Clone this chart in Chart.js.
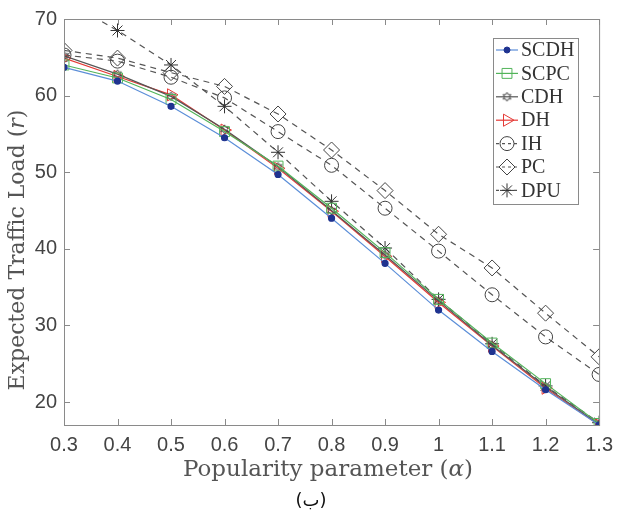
<!DOCTYPE html>
<html>
<head>
<meta charset="utf-8">
<script src="https://cdn.jsdelivr.net/npm/chart.js@4.4.0/dist/chart.umd.min.js"></script>
<style>
  html, body { margin: 0; padding: 0; background: #fff; }
  #wrap { width: 621px; height: 516px; position: relative; }
</style>
</head>
<body>
<div id="wrap"><canvas id="loadChart" width="621" height="516"></canvas></div>
<script>
/* ── data ── */
const alphas = [0.3, 0.4, 0.5, 0.6, 0.7, 0.8, 0.9, 1.0, 1.1, 1.2, 1.3];
const xTicks = [0.3, 0.4, 0.5, 0.6, 0.7, 0.8, 0.9, 1.0, 1.1, 1.2, 1.3];
const yTicks = [20, 30, 40, 50, 60, 70];

const scdh = [63.7, 61.9, 58.6, 54.5, 49.7, 44.0, 38.1, 32.0, 26.6, 21.6, 17.0];
const scpc = [64.0, 62.3, 59.5, 55.3, 50.8, 45.3, 39.5, 33.4, 27.7, 22.4, 17.2];
const cdh  = [65.2, 62.8, 59.9, 55.6, 50.7, 45.0, 39.2, 33.2, 27.4, 22.0, 17.1];
const dh   = [64.9, 62.5, 60.1, 55.5, 50.5, 44.9, 39.0, 33.0, 27.3, 21.8, 17.0];
const ih   = [65.3, 64.5, 62.4, 59.7, 55.3, 50.9, 45.3, 39.7, 34.0, 28.5, 23.6];
const pc   = [65.9, 64.9, 63.0, 61.2, 57.6, 52.9, 47.6, 41.9, 37.5, 31.6, 25.9];
const dpu  = [72.5, 68.5, 64.0, 58.6, 52.6, 46.2, 40.1, 33.4, 27.6, 22.1, 17.3];

const pts = arr => arr.map((v, i) => ({ x: alphas[i], y: v }));

/* hexagram marker (MATLAB 'h') */
function hexagram(r, color) {
  const c = document.createElement('canvas');
  const s = Math.ceil(r * 2 + 4);
  c.width = s; c.height = s;
  const g = c.getContext('2d');
  g.strokeStyle = color; g.lineWidth = 1;
  const cx = s / 2, cy = s / 2;
  g.beginPath();
  for (let i = 0; i < 12; i++) {
    const a = -Math.PI / 2 + i * Math.PI / 6;
    const rr = i % 2 === 0 ? r : r * 0.55;
    const px = cx + rr * Math.cos(a), py = cy + rr * Math.sin(a);
    i === 0 ? g.moveTo(px, py) : g.lineTo(px, py);
  }
  g.closePath(); g.stroke();
  return c;
}

const serif = '"DejaVu Serif", "Liberation Serif", serif';
const lserif = '"Liberation Serif", serif';
const sans = '"Liberation Sans", Arial, sans-serif';

const datasets = [
  { label: 'SCDH', data: pts(scdh), borderColor: '#5b8ed8', borderWidth: 1.2,
    pointStyle: 'circle', pointRadius: 3, pointBackgroundColor: '#1f3390', pointBorderColor: '#1f3390' },
  { label: 'SCPC', data: pts(scpc), borderColor: '#52b45a', borderWidth: 1.2,
    pointStyle: 'rect', pointRadius: 7, pointBackgroundColor: 'rgba(0,0,0,0)', pointBorderColor: '#52b45a', pointBorderWidth: 1 },
  { label: 'CDH', data: pts(cdh), borderColor: '#555555', borderWidth: 1.2,
    pointStyle: hexagram(4.5, '#444'), pointRadius: 5 },
  { label: 'DH', data: pts(dh), borderColor: '#e53935', borderWidth: 1.2,
    pointStyle: 'triangle', pointRotation: 90, pointRadius: 7, pointBackgroundColor: 'rgba(0,0,0,0)', pointBorderColor: '#e53935', pointBorderWidth: 1 },
  { label: 'IH', data: pts(ih), borderColor: '#555555', borderWidth: 1.2, borderDash: [6, 5],
    pointStyle: 'circle', pointRadius: 7, pointBackgroundColor: 'rgba(0,0,0,0)', pointBorderColor: '#444', pointBorderWidth: 1 },
  { label: 'PC', data: pts(pc), borderColor: '#555555', borderWidth: 1.2, borderDash: [6, 5],
    pointStyle: 'rectRot', pointRadius: 8, pointBackgroundColor: 'rgba(0,0,0,0)', pointBorderColor: '#444', pointBorderWidth: 1 },
  { label: 'DPU', data: pts(dpu), borderColor: '#555555', borderWidth: 1.2, borderDash: [6, 5],
    pointStyle: 'star', pointRadius: 7, pointBackgroundColor: 'rgba(0,0,0,0)', pointBorderColor: '#333', pointBorderWidth: 1 }
];

// text made of pieces, some italic
function drawPieces(ctx, pieces, size) {
  const fonts = pieces.map(p => (p[1] ? 'italic ' : '') + size + 'px ' + serif);
  let w = 0;
  pieces.forEach((p, i) => { ctx.font = fonts[i]; w += ctx.measureText(p[0]).width; });
  let x = -w / 2;
  ctx.textAlign = 'left';
  pieces.forEach((p, i) => {
    ctx.font = fonts[i];
    ctx.fillText(p[0], x, 0);
    x += ctx.measureText(p[0]).width;
  });
}

/* ── box, inward ticks, titles, legend and caption ── */
const frame = {
  id: 'frame',
  afterDraw(chart) {
    const { ctx, chartArea: a, scales } = chart;
    ctx.save();
    ctx.strokeStyle = '#8a8a8a';
    ctx.lineWidth = 1;
    ctx.strokeRect(a.left + 0.5, a.top + 0.5, a.right - a.left, a.bottom - a.top);
    ctx.beginPath();
    xTicks.forEach(t => {
      const x = Math.round(scales.x.getPixelForValue(t)) + 0.5;
      ctx.moveTo(x, a.bottom); ctx.lineTo(x, a.bottom - 6);
      ctx.moveTo(x, a.top); ctx.lineTo(x, a.top + 6);
    });
    yTicks.forEach(t => {
      const y = Math.round(scales.y.getPixelForValue(t)) + 0.5;
      ctx.moveTo(a.left, y); ctx.lineTo(a.left + 6, y);
      ctx.moveTo(a.right, y); ctx.lineTo(a.right - 6, y);
    });
    ctx.stroke();

    // axis titles
    ctx.fillStyle = '#555';
    ctx.textBaseline = 'middle';
    ctx.save();
    ctx.translate(328, 470);
    drawPieces(ctx, [['Popularity parameter (', false], ['α', true], [')', false]], 23);
    ctx.restore();
    ctx.save();
    ctx.translate(18, 250);
    ctx.rotate(-Math.PI / 2);
    drawPieces(ctx, [['Expected Traffic Load (', false], ['r', true], [')', false]], 22);
    ctx.restore();

    // legend
    const lx = 493, ly = 38, lw = 85, lh = 166;
    ctx.fillStyle = '#fff';
    ctx.fillRect(lx, ly, lw, lh);
    ctx.strokeStyle = '#8a8a8a';
    ctx.strokeRect(lx + 0.5, ly + 0.5, lw, lh);
    ctx.font = '20px ' + lserif;
    ctx.textBaseline = 'middle';
    chart.data.datasets.forEach((ds, i) => {
      const y = 50 + i * 23.4;
      ctx.save();
      ctx.strokeStyle = ds.borderColor;
      ctx.lineWidth = ds.borderWidth;
      ctx.setLineDash(ds.borderDash ? [3, 3] : []);
      ctx.beginPath(); ctx.moveTo(496, y); ctx.lineTo(518, y); ctx.stroke();
      ctx.restore();
      ctx.save();
      ctx.strokeStyle = ds.pointBorderColor || ds.borderColor;
      ctx.fillStyle = ds.pointBackgroundColor || 'rgba(0,0,0,0)';
      ctx.lineWidth = ds.pointBorderWidth || 1;
      Chart.helpers.drawPoint(ctx, {
        pointStyle: ds.pointStyle, radius: ds.pointRadius, rotation: ds.pointRotation || 0,
        borderWidth: ds.pointBorderWidth || 1
      }, 507, y);
      ctx.restore();
      ctx.fillStyle = '#333';
      ctx.textAlign = 'left';
      ctx.fillText(ds.label, 521, y + 1);
    });

    // caption
    ctx.fillStyle = '#111';
    ctx.textAlign = 'center';
    ctx.font = '18px "DejaVu Sans", sans-serif';
    ctx.fillText('(ب)', 311, 501);
    ctx.restore();
  }
};

new Chart(document.getElementById('loadChart'), {
  type: 'line',
  data: { datasets },
  plugins: [frame],
  options: {
    responsive: false,
    animation: false,
    layout: { padding: { left: 0, right: 14, top: 19, bottom: 0 } },
    plugins: { legend: { display: false }, tooltip: { enabled: false } },
    elements: { line: { tension: 0 } },
    scales: {
      x: {
        type: 'linear', min: 0.3, max: 1.3,
        afterBuildTicks: s => { s.ticks = xTicks.map(v => ({ value: v })); },
        afterFit: s => { s.height = 91; },
        grid: { display: false, drawTicks: false },
        border: { display: false },
        ticks: { padding: 8, color: '#444', font: { family: sans, size: 20 },
                 callback: v => String(Math.round(v * 10) / 10) }
      },
      y: {
        min: 17, max: 70,
        afterBuildTicks: s => { s.ticks = yTicks.map(v => ({ value: v })); },
        afterFit: s => { s.width = 64; },
        grid: { display: false, drawTicks: false },
        border: { display: false },
        ticks: { padding: 7, color: '#444', font: { family: sans, size: 20 } }
      }
    }
  }
});
</script>
</body>
</html>
